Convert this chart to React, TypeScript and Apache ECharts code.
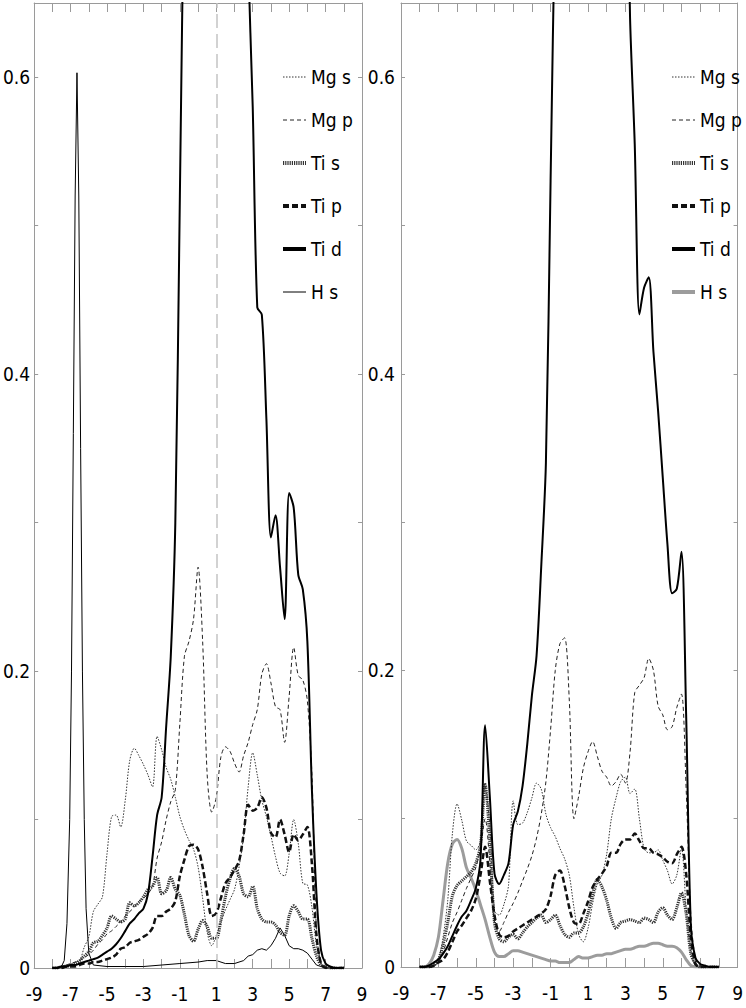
import React, { useEffect, useRef } from "react";
import * as echarts from "echarts";

// Energy grid (eV) shared by most curves
const energy = [
  -8, -7.75, -7.5, -7.25, -7, -6.75, -6.5, -6.25, -6, -5.75,
  -5.5, -5.25, -5, -4.75, -4.5, -4.25, -4, -3.75, -3.5, -3.25,
  -3, -2.75, -2.5, -2.25, -2, -1.75, -1.5, -1.25, -1, -0.75,
  -0.5, -0.25, 0, 0.25, 0.5, 0.75, 1, 1.25, 1.5, 1.75,
  2, 2.25, 2.5, 2.75, 3, 3.25, 3.5, 3.75, 4, 4.25,
  4.5, 4.75, 5, 5.25, 5.5, 5.75, 6, 6.25, 6.5, 6.75,
  7, 7.25, 7.5, 7.75, 8,
];

// ---- Left panel ----
const leftMgS = [
  0, 0, 0.001, 0.002, 0.001, 0.004, 0.005, 0.014, 0.021, 0.038,
  0.043, 0.048, 0.077, 0.102, 0.103, 0.095, 0.113, 0.14, 0.148, 0.143,
  0.137, 0.13, 0.122, 0.156, 0.147, 0.135, 0.127, 0.115, 0.102, 0.093,
  0.086, 0.08, 0.068, 0.047, 0.024, 0.015, 0.022, 0.031, 0.039, 0.046,
  0.053, 0.068, 0.089, 0.122, 0.145, 0.13, 0.113, 0.102, 0.089, 0.075,
  0.064, 0.062, 0.077, 0.1, 0.084, 0.057, 0.056, 0.041, 0.015, 0.003,
  0.001, 0, 0, 0, 0,
];
const leftMgP = [
  0, 0, 0.001, 0.002, 0.003, 0.004, 0.005, 0.007, 0.009, 0.012,
  0.016, 0.019, 0.023, 0.025, 0.028, 0.031, 0.035, 0.038, 0.041, 0.045,
  0.047, 0.05, 0.055, 0.074, 0.085, 0.1, 0.112, 0.12, 0.165, 0.21,
  0.22, 0.235, 0.27, 0.22, 0.13, 0.105, 0.115, 0.142, 0.149, 0.146,
  0.138, 0.132, 0.143, 0.152, 0.164, 0.174, 0.198, 0.205, 0.192, 0.176,
  0.174, 0.152, 0.183, 0.216, 0.197, 0.194, 0.18, 0.13, 0.025, 0.003,
  0.001, 0, 0, 0, 0,
];
const leftTiS = [
  0, 0, 0.001, 0.001, 0.002, 0.003, 0.005, 0.008, 0.011, 0.017,
  0.018, 0.022, 0.027, 0.035, 0.033, 0.031, 0.033, 0.044, 0.042, 0.044,
  0.048, 0.053, 0.055, 0.061, 0.05, 0.052, 0.061, 0.053, 0.049, 0.036,
  0.022, 0.018, 0.026, 0.032, 0.028, 0.02, 0.02, 0.032, 0.048, 0.06,
  0.067, 0.062, 0.05, 0.048, 0.055, 0.04, 0.033, 0.031, 0.031, 0.029,
  0.024, 0.022, 0.035, 0.042, 0.038, 0.033, 0.033, 0.02, 0.008, 0.002,
  0.001, 0, 0, 0, 0,
];
const leftTiP = [
  0, 0, 0, 0.001, 0.001, 0.001, 0.002, 0.003, 0.003, 0.004,
  0.004, 0.005, 0.006, 0.007, 0.009, 0.013, 0.014, 0.017, 0.018, 0.019,
  0.021, 0.023, 0.027, 0.035, 0.035, 0.038, 0.04, 0.045, 0.062, 0.073,
  0.082, 0.083, 0.08, 0.068, 0.05, 0.035, 0.037, 0.047, 0.057, 0.061,
  0.066, 0.072, 0.09, 0.11, 0.106, 0.108, 0.115, 0.108, 0.091, 0.088,
  0.1, 0.09, 0.078, 0.09, 0.086, 0.09, 0.095, 0.07, 0.022, 0.003,
  0, 0, 0, 0, 0,
];
const leftTiD = [
  0, 0, 0.001, 0.001, 0.002, 0.002, 0.003, 0.004, 0.005, 0.006,
  0.007, 0.009, 0.011, 0.013, 0.016, 0.02, 0.025, 0.03, 0.033, 0.037,
  0.04, 0.05, 0.075, 0.103, 0.115, 0.163, 0.21, 0.3, 0.52, 0.75,
  0.9, 1.0, 1.05, 1.05, 1.0, 0.98, 1.0, 0.98, 0.95, 0.92,
  0.9, 0.88, 0.85, 0.68, 0.58, 0.445, 0.44, 0.37, 0.29, 0.305,
  0.27, 0.235, 0.32, 0.31, 0.265, 0.255, 0.22, 0.12, 0.05, 0.012,
  0.003, 0.001, 0, 0, 0,
];
// H s (left) has a sharp peak, so it has its own energy points
const leftHsEnergy = [
  -8, -7.5, -7.35, -7.2, -7.05, -6.95, -6.85, -6.75, -6.65, -6.55,
  -6.45, -6.35, -6.25, -6.15, -6, -5.75, -5, -4, -3, -2,
  -1, 0, 0.5, 1, 1.5, 2, 2.5, 2.75, 3, 3.25,
  3.5, 3.75, 4, 4.25, 4.5, 4.75, 5, 5.25, 5.5, 5.75,
  6, 6.25, 6.5, 7, 8,
];
const leftHs = [
  0, 0.001, 0.005, 0.03, 0.1, 0.2, 0.36, 0.52, 0.603, 0.52,
  0.35, 0.2, 0.1, 0.04, 0.01, 0.002, 0.001, 0.001, 0.001, 0.002,
  0.003, 0.004, 0.005, 0.005, 0.003, 0.003, 0.005, 0.008, 0.009, 0.012,
  0.013, 0.012, 0.015, 0.02, 0.027, 0.022, 0.015, 0.013, 0.013, 0.012,
  0.01, 0.006, 0.002, 0, 0,
];

// ---- Right panel ----
const rightMgS = [
  0, 0, 0.001, 0.001, 0.005, 0.02, 0.045, 0.09, 0.11, 0.099,
  0.085, 0.082, 0.079, 0.085, 0.122, 0.095, 0.038, 0.035, 0.042, 0.055,
  0.112, 0.096, 0.097, 0.104, 0.114, 0.124, 0.12, 0.103, 0.094, 0.088,
  0.08, 0.073, 0.062, 0.04, 0.022, 0.017, 0.026, 0.043, 0.056, 0.062,
  0.076, 0.1, 0.114, 0.125, 0.128, 0.117, 0.12, 0.1, 0.08, 0.077,
  0.077, 0.079, 0.072, 0.065, 0.056, 0.062, 0.08, 0.04, 0.01, 0.001,
  0, 0, 0, 0, 0,
];
const rightMgP = [
  0, 0, 0, 0.001, 0.003, 0.01, 0.02, 0.03, 0.037, 0.045,
  0.053, 0.06, 0.067, 0.08, 0.1, 0.07, 0.03, 0.024, 0.03, 0.037,
  0.043, 0.05, 0.058, 0.066, 0.075, 0.087, 0.103, 0.125, 0.16, 0.2,
  0.218, 0.222, 0.18, 0.1, 0.115, 0.134, 0.145, 0.152, 0.142, 0.132,
  0.128, 0.122, 0.125, 0.13, 0.124, 0.145, 0.185, 0.19, 0.195, 0.208,
  0.2, 0.176, 0.17, 0.16, 0.162, 0.175, 0.184, 0.12, 0.035, 0.005,
  0.001, 0, 0, 0, 0,
];
const rightTiS = [
  0, 0, 0, 0.001, 0.005, 0.015, 0.03, 0.048, 0.055, 0.058,
  0.061, 0.064, 0.07, 0.082, 0.123, 0.085, 0.03, 0.019, 0.017, 0.02,
  0.022, 0.019, 0.023, 0.027, 0.03, 0.033, 0.035, 0.03, 0.032, 0.035,
  0.028, 0.022, 0.02, 0.023, 0.023, 0.027, 0.036, 0.049, 0.059, 0.054,
  0.045, 0.033, 0.026, 0.03, 0.031, 0.032, 0.031, 0.03, 0.033, 0.032,
  0.03, 0.037, 0.04, 0.035, 0.032, 0.04, 0.05, 0.036, 0.009, 0.002,
  0, 0, 0, 0, 0,
];
const rightTiP = [
  0, 0, 0, 0.001, 0.003, 0.005, 0.01, 0.017, 0.024, 0.028,
  0.033, 0.038, 0.046, 0.062, 0.081, 0.058, 0.035, 0.022, 0.02, 0.021,
  0.024, 0.026, 0.028, 0.03, 0.032, 0.034, 0.036, 0.039, 0.048, 0.062,
  0.065, 0.055, 0.04, 0.03, 0.029, 0.036, 0.044, 0.054, 0.059, 0.063,
  0.068, 0.077, 0.077, 0.083, 0.086, 0.086, 0.09, 0.085, 0.08, 0.08,
  0.077, 0.076, 0.074, 0.071, 0.07, 0.076, 0.081, 0.063, 0.02, 0.002,
  0, 0, 0, 0, 0,
];
const rightTiD = [
  0, 0, 0.001, 0.003, 0.005, 0.009, 0.014, 0.021, 0.028, 0.034,
  0.038, 0.045, 0.053, 0.072, 0.163, 0.115, 0.063, 0.056, 0.062, 0.07,
  0.096, 0.105, 0.122, 0.15, 0.183, 0.21, 0.27, 0.34, 0.53, 0.72,
  0.85, 0.95, 1.0, 1.05, 1.1, 1.1, 1.05, 1.0, 1.0, 0.98,
  0.95, 0.92, 0.9, 0.85, 0.8, 0.64, 0.555, 0.44, 0.458, 0.465,
  0.415, 0.375, 0.33, 0.285, 0.252, 0.255, 0.28, 0.17, 0.028, 0.006,
  0.002, 0.001, 0, 0, 0,
];
const rightHs = [
  0, 0, 0.002, 0.008, 0.02, 0.045, 0.07, 0.083, 0.086, 0.08,
  0.067, 0.06, 0.052, 0.042, 0.032, 0.02, 0.01, 0.007, 0.007, 0.009,
  0.011, 0.011, 0.01, 0.009, 0.008, 0.007, 0.006, 0.005, 0.004, 0.004,
  0.003, 0.003, 0.003, 0.005, 0.007, 0.006, 0.006, 0.007, 0.008, 0.008,
  0.009, 0.009, 0.01, 0.011, 0.012, 0.012, 0.013, 0.014, 0.014, 0.015,
  0.016, 0.016, 0.015, 0.014, 0.014, 0.013, 0.01, 0.005, 0.001, 0,
  0, 0, 0, 0, 0,
];

const seriesNames = ["Mg s", "Mg p", "Ti s", "Ti p", "Ti d", "H s"];
const xTickLabels = [-9, -7, -5, -3, -1, 1, 3, 5, 7, 9];
const yTickLabels = [0, 0.2, 0.4, 0.6];
const fermiLevel = 1;

const FONT = "'DejaVu Sans Condensed', 'Liberation Sans Narrow', 'Liberation Sans', sans-serif";
const AXIS = "#9a9a9a";

const pairs = (xs: number[], ys: number[]) => xs.map((x, i) => [x, ys[i]]);

const lineStyles: Record<string, any> = {
  "Mg s": { color: "#333", width: 1, type: [1.5, 1.5] },
  "Mg p": { color: "#222", width: 1, type: [4, 3] },
  "Ti s": { color: "#333", width: 3, type: [1.2, 1] },
  "Ti p": { color: "#111", width: 2.5, type: [6, 3] },
  "Ti d": { color: "#000", width: 2, type: "solid" },
  "H s": { color: "#000", width: 1, type: "solid" },
};
const rightHsStyle = { color: "#9c9c9c", width: 3, type: "solid" };

function xAxes(gridIndex: number) {
  const base = {
    type: "value",
    gridIndex,
    min: -9,
    max: 9,
    interval: 1,
    splitLine: { show: false },
    axisLine: { show: true, onZero: false, lineStyle: { color: AXIS, width: 1 } },
    axisTick: { show: true, inside: true, length: 9, lineStyle: { color: AXIS } },
  };
  return [
    {
      ...base,
      position: "bottom",
      axisLabel: {
        color: "#000",
        fontSize: 19,
        fontFamily: FONT,
        margin: 16,
        showMinLabel: true,
        showMaxLabel: true,
        formatter: (v: number) => {
          const r = Math.round(v);
          return xTickLabels.includes(r) ? String(r) : "";
        },
      },
    },
    { ...base, position: "top", axisLabel: { show: false } },
  ];
}

function yAxes(gridIndex: number, margin: number) {
  const base = {
    type: "value",
    gridIndex,
    min: 0,
    max: 0.65,
    interval: 0.1,
    splitLine: { show: false },
    axisLine: { show: true, onZero: false, lineStyle: { color: AXIS, width: 1 } },
    axisTick: { show: true, inside: true, length: 4, lineStyle: { color: AXIS } },
  };
  return [
    {
      ...base,
      position: "left",
      axisLabel: {
        color: "#000",
        fontSize: 19,
        fontFamily: FONT,
        margin,
        showMaxLabel: false,
        formatter: (v: number) => {
          const hit = yTickLabels.find((t) => Math.abs(t - v) < 1e-6);
          if (hit === undefined) return "";
          return hit === 0 ? "0" : hit.toFixed(1);
        },
      },
    },
    { ...base, position: "right", axisLabel: { show: false } },
  ];
}

function makeSeries(name: string, data: number[][], axis: number, style: any, extra: any = {}) {
  return {
    type: "line",
    name,
    data,
    xAxisIndex: axis,
    yAxisIndex: axis,
    symbol: "none",
    showSymbol: false,
    smooth: 0.3,
    clip: true,
    lineStyle: style,
    itemStyle: { color: style.color },
    emphasis: { disabled: true },
    ...extra,
  };
}

function legend(left: number, rightPanel: boolean) {
  return {
    orient: "vertical",
    left,
    top: 62,
    itemWidth: 23,
    itemHeight: 10,
    itemGap: 23,
    selectedMode: false,
    itemStyle: { opacity: 0 },
    textStyle: { fontSize: 19, lineHeight: 20, fontFamily: FONT, color: "#000" },
    data: seriesNames.map((n) => {
      const s = n === "H s" && rightPanel ? rightHsStyle : lineStyles[n];
      const w = s.width >= 2 ? 4 : s.width;
      return { name: n, lineStyle: { ...s, width: w } };
    }),
  };
}

export default function App() {
  const ref = useRef<HTMLDivElement>(null);
  useEffect(() => {
    document.body.style.margin = "0";
    const chart = echarts.init(ref.current!, null, { renderer: "svg" });
    const option: any = {
      animation: false,
      backgroundColor: "#fff",
      grid: [
        { left: 18, top: 3, width: 344, height: 965 },
        { left: 401, top: 3, width: 342, height: 964 },
      ],
      xAxis: [...xAxes(0), ...xAxes(1)],
      yAxis: [...yAxes(0, 4), ...yAxes(1, 6)],
      legend: [legend(276, false), legend(665, true)],
      series: [
        makeSeries("H s", pairs(leftHsEnergy, leftHs), 0, lineStyles["H s"], {
          smooth: false,
          markLine: {
            silent: true,
            symbol: "none",
            label: { show: false },
            lineStyle: { color: "#c4c4c4", type: [14, 6], width: 1.5 },
            data: [{ xAxis: fermiLevel }],
          },
        }),
        makeSeries("Mg s", pairs(energy, leftMgS), 0, lineStyles["Mg s"]),
        makeSeries("Mg p", pairs(energy, leftMgP), 0, lineStyles["Mg p"]),
        makeSeries("Ti s", pairs(energy, leftTiS), 0, lineStyles["Ti s"]),
        makeSeries("Ti p", pairs(energy, leftTiP), 0, lineStyles["Ti p"]),
        makeSeries("Ti d", pairs(energy, leftTiD), 0, lineStyles["Ti d"]),
        makeSeries("H s", pairs(energy, rightHs), 2, rightHsStyle),
        makeSeries("Mg s", pairs(energy, rightMgS), 2, lineStyles["Mg s"]),
        makeSeries("Mg p", pairs(energy, rightMgP), 2, lineStyles["Mg p"]),
        makeSeries("Ti s", pairs(energy, rightTiS), 2, lineStyles["Ti s"]),
        makeSeries("Ti p", pairs(energy, rightTiP), 2, lineStyles["Ti p"]),
        makeSeries("Ti d", pairs(energy, rightTiD), 2, lineStyles["Ti d"]),
      ],
    };
    chart.setOption(option);
    return () => chart.dispose();
  }, []);
  return <div ref={ref} style={{ width: 746, height: 1008 }} />;
}
